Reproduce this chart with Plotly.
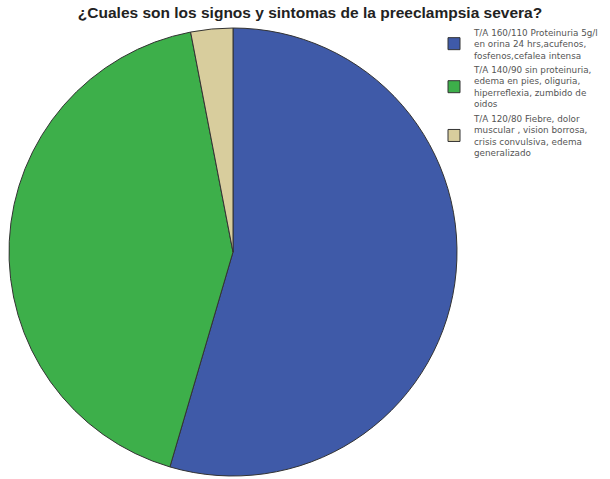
import plotly.graph_objects as go

labels = [
    "T/A 160/110 Proteinuria 5g/l<br>en orina 24 hrs,acufenos,<br>fosfenos,cefalea intensa",
    "T/A 140/90 sin proteinuria,<br>edema en pies, oliguria,<br>hiperreflexia, zumbido de<br>oidos",
    "T/A 120/80 Fiebre, dolor<br>muscular , vision borrosa,<br>crisis convulsiva, edema<br>generalizado",
]
counts = [18, 14, 1]
colors = ["#3f5aa8", "#3daf4a", "#d8cd9d"]

W, H = 610, 479
cx, cy, r = 233, 252, 224

fig = go.Figure(go.Pie(
    labels=labels,
    values=counts,
    sort=False,
    direction="clockwise",
    rotation=0,
    textinfo="none",
    hoverinfo="label+value+percent",
    marker=dict(colors=colors, line=dict(color="#333333", width=1)),
    domain=dict(x=[(cx - r) / W, (cx + r) / W], y=[(H - cy - r) / H, (H - cy + r) / H]),
))

fig.update_layout(
    width=W, height=H,
    margin=dict(l=0, r=0, t=0, b=0),
    paper_bgcolor="white",
    title=dict(
        text="<b>¿Cuales son los signos y sintomas de la preeclampsia severa?</b>",
        x=310 / W, y=1 - 13 / H, xanchor="center", yanchor="middle",
        font=dict(family="Liberation Sans, Arial", size=15.5, color="#222222"),
    ),
    legend=dict(
        x=434 / W, y=1 - 20 / H, xanchor="left", yanchor="top",
        font=dict(family="DejaVu Sans", size=8.8, color="#555555"),
        tracegroupgap=0, itemwidth=30,
        bgcolor="rgba(0,0,0,0)",
    ),
)

fig.write_html("out.html")
